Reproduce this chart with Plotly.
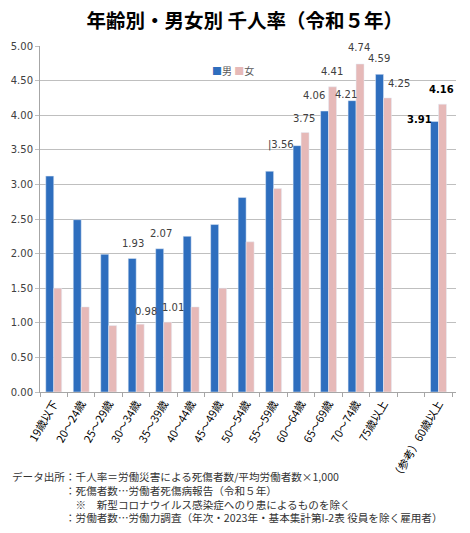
import plotly.graph_objects as go

# ---- data ----
categories = ["19歳以下", "20～24歳", "25～29歳", "30～34歳", "35～39歳", "40～44歳",
              "45～49歳", "50～54歳", "55～59歳", "60～64歳", "65～69歳", "70～74歳",
              "75歳以上", " ", "（参考）60歳以上"]
male = [3.12, 2.49, 1.99, 1.93, 2.07, 2.25, 2.42, 2.81, 3.19, 3.56, 4.06, 4.21, 4.59, None, 3.91]
female = [1.50, 1.23, 0.96, 0.98, 1.01, 1.23, 1.50, 2.17, 2.94, 3.75, 4.41, 4.74, 4.25, None, 4.16]
y_ticks = [0.0, 0.5, 1.0, 1.5, 2.0, 2.5, 3.0, 3.5, 4.0, 4.5, 5.0]

# which bars carry a value label (category index)
labelled_male = [3, 4, 9, 10, 11, 12, 14]
labelled_female = [3, 4, 9, 10, 11, 12, 14]

title_text = "年齢別・男女別 千人率（令和５年）"
notes = [
    "データ出所：千人率＝労働災害による死傷者数/平均労働者数×1,000",
    "：死傷者数…労働者死傷病報告（令和５年）",
    "※　新型コロナウイルス感染症へのり患によるものを除く",
    "：労働者数…労働力調査（年次・2023年・基本集計第I-2表 役員を除く雇用者）",
]

# ---- styles ----
MALE_C = "#2E6EBE"
FEMALE_C = "#E6B9B8"
JP = "Noto Sans CJK JP"
NUM = "DejaVu Sans"
note_indent = ["", "　　　　　", "　　　　　　", "　　　　　"]

# label offsets in pixels (xshift relative to category centre, yshift above bar top)
male_off = {3: (-3, 15), 4: (-3, 15), 9: (-20, 1), 10: (-15, 16), 11: (-10, 6), 12: (-5, 16), 14: (-19, 2)}
female_off = {3: (10, 13), 4: (9, 15), 9: (3, 14), 10: (3, 15), 11: (3, 16), 12: (15, 14), 14: (3, 15)}

fig = go.Figure()
fig.add_trace(go.Bar(name="男", x=categories, y=male, marker_color=MALE_C, showlegend=False))
fig.add_trace(go.Bar(name="女", x=categories, y=female, marker_color=FEMALE_C, showlegend=False))


def value_label(values, i, offs, prefix=""):
    xs, ys = offs[i]
    bold = categories[i] == categories[-1]
    txt = prefix + f"{values[i]:.2f}"
    return dict(x=categories[i], y=values[i], xref="x", yref="y",
                text=f"<b>{txt}</b>" if bold else txt, showarrow=False,
                xshift=xs, yshift=ys, yanchor="middle",
                font=dict(family=NUM, size=10, color="#000000" if bold else "#404040"))


annotations = []
for i in labelled_male:
    annotations.append(value_label(male, i, male_off, "|" if i == 9 else ""))
for i in labelled_female:
    annotations.append(value_label(female, i, female_off))

# legend (compact, as in the reference)
annotations.append(dict(
    x=0.408, y=0.929, xref="paper", yref="paper", xanchor="left", yanchor="middle",
    showarrow=False,
    text=f"<span style='color:{MALE_C}'>■</span>男 <span style='color:{FEMALE_C}'>■</span>女",
    font=dict(family=JP, size=10, color="#595959")))

# footnote (one block, left aligned)
annotations.append(dict(
    x=-0.0721, y=-0.2176, xref="paper", yref="paper", xanchor="left", yanchor="top",
    align="left", showarrow=False,
    text="<br>".join(ind + t for ind, t in zip(note_indent, notes)),
    font=dict(family=JP, size=10.6, color="#333333")))

fig.update_layout(
    width=470, height=533,
    margin=dict(l=32, r=22, t=38, b=149, autoexpand=False),
    paper_bgcolor="white", plot_bgcolor="white",
    barmode="group", bargap=0.42, bargroupgap=0,
    title=dict(text=f"<b>{title_text}</b>", x=0.5036, xref="container", xanchor="center",
               y=0.9747, yref="container", yanchor="middle",
               font=dict(family=JP, size=19.5, color="#000000")),
    annotations=annotations,
)

fig.update_xaxes(
    type="category", categoryorder="array", categoryarray=categories,
    tickangle=-60, tickfont=dict(family=JP, size=11, color="#000000"),
    showline=True, linecolor="#A6A6A6", linewidth=1,
    ticks="outside", tickson="boundaries", ticklen=4, tickcolor="#A6A6A6",
    showgrid=False, automargin=False,
)
fig.update_yaxes(
    range=[0, 5], tickvals=y_ticks, tickformat=".2f",
    tickfont=dict(family=NUM, size=10, color="#404040"),
    showgrid=True, gridcolor="#BFBFBF", gridwidth=1,
    showline=True, linecolor="#A6A6A6", linewidth=1,
    ticks="outside", ticklen=4, tickcolor="#BFBFBF",
    zeroline=False, automargin=False,
)

fig.write_html("out.html")
